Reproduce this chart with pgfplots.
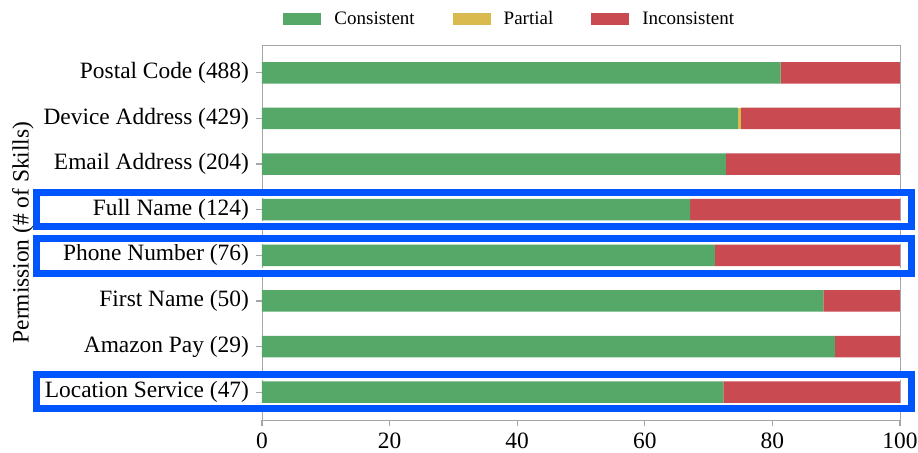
\documentclass[border=0pt]{standalone}
\usepackage{fontspec}
\setmainfont{Liberation Serif}
\usepackage{pgfplots}
\pgfplotsset{compat=1.18}
\definecolor{cgreen}{HTML}{55A868}
\definecolor{cyellow}{HTML}{D9BA4E}
\definecolor{cred}{HTML}{C94A50}
\definecolor{hblue}{RGB}{0,85,255}
\begin{document}
\begin{tikzpicture}
\begin{axis}[name=ax, scale only axis, width=319pt, height=187.5pt,
 xbar stacked, bar width=0.47, xmin=0, xmax=100, ymin=-0.61, ymax=7.61,
 ytick={0,...,7},
 yticklabels={Location Service (47), Amazon Pay (29), First Name (50), Phone Number (76), Full Name (124), Email Address (204), Device Address (429), Postal Code (488)},
 xtick={0,20,...,100},
 tick align=outside, tick pos=left, major tick length=3pt,
 axis line style={gray!70}, tick style={gray!70, line width=0.6pt},
 ticklabel style={font=\fontsize{11.7}{14}\selectfont},
 /pgf/number format/assume math mode=true,
 clip=false,
 legend style={draw=none, at={(0.39,1.068)}, anchor=center, legend columns=3,
   font=\fontsize{9.5}{11}\selectfont,
   /tikz/every even column/.append style={column sep=17pt},
   /tikz/every odd column/.append style={column sep=4.5pt}},
 legend image code/.code={\fill[#1] (0pt,-3pt) rectangle (19pt,3pt);},
]
\addplot[fill=cgreen, draw=none] coordinates {(72.3,0) (89.8,1) (88.0,2) (71.0,3) (67.1,4) (72.7,5) (74.6,6) (81.3,7)};
\addplot[fill=cyellow, draw=none] coordinates {(0,0) (0,1) (0,2) (0,3) (0,4) (0,5) (0.5,6) (0,7)};
\addplot[fill=cred, draw=none] coordinates {(27.7,0) (10.2,1) (12.0,2) (29.0,3) (32.9,4) (27.3,5) (24.9,6) (18.7,7)};
\legend{Consistent, Partial, Inconsistent}
% highlight boxes
\draw[hblue, line width=3.5pt] (axis cs:-35.3,3.63) rectangle (axis cs:101.8,4.38);
\draw[white, line width=1pt] ([xshift=2.25pt,yshift=2.25pt]axis cs:-35.3,3.63) rectangle ([xshift=-2.25pt,yshift=-2.25pt]axis cs:101.8,4.38);
\draw[hblue, line width=3.5pt] (axis cs:-35.3,2.60) rectangle (axis cs:101.8,3.37);
\draw[white, line width=1pt] ([xshift=2.25pt,yshift=2.25pt]axis cs:-35.3,2.60) rectangle ([xshift=-2.25pt,yshift=-2.25pt]axis cs:101.8,3.37);
\draw[hblue, line width=3.5pt] (axis cs:-35.3,-0.36) rectangle (axis cs:101.8,0.39);
\draw[white, line width=1pt] ([xshift=2.25pt,yshift=2.25pt]axis cs:-35.3,-0.36) rectangle ([xshift=-2.25pt,yshift=-2.25pt]axis cs:101.8,0.39);
\end{axis}
\node[rotate=90, font=\fontsize{11.7}{14}\selectfont] at ([xshift=-119.5pt]ax.west) {Permission (\# of Skills)};
\pgfresetboundingbox
\path[use as bounding box] ([xshift=-131pt,yshift=-16.5pt]ax.south west) rectangle ([xshift=328pt,yshift=210pt]ax.south west);
\end{tikzpicture}
\end{document}
